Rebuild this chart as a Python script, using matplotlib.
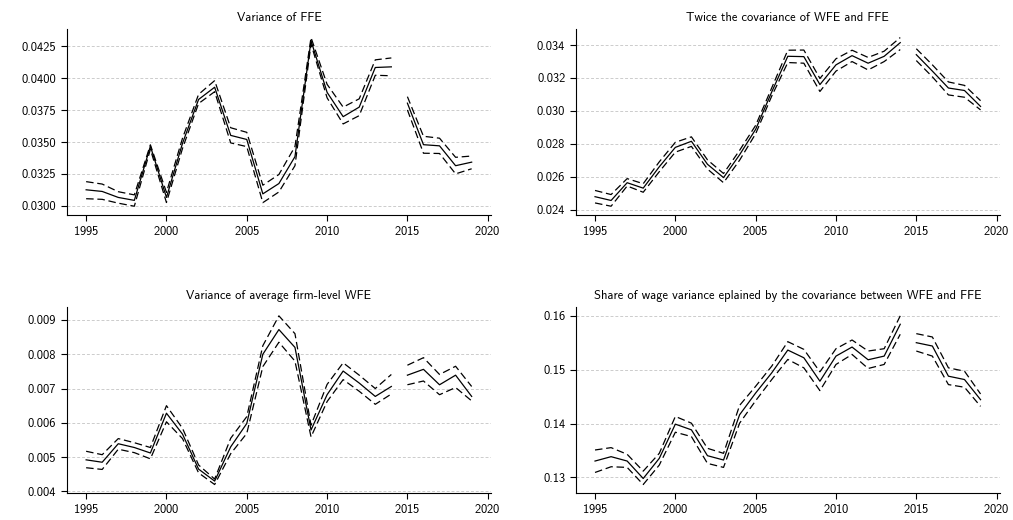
import matplotlib
matplotlib.use("Agg")
import matplotlib.pyplot as plt
from matplotlib.ticker import MultipleLocator, FormatStrFormatter

plt.rcParams['font.family'] = ['cmss10', 'DejaVu Sans']
plt.rcParams['axes.unicode_minus'] = False
plt.rcParams['axes.formatter.use_mathtext'] = True

# years (series breaks between 2014 and 2015)
years = list(range(1995, 2020))

# Variance of FFE
ffe_mid = [0.03125, 0.03112, 0.03065, 0.03042, 0.03467, 0.03065, 0.03490, 0.03834, 0.03930, 0.03552,
           0.03520, 0.03093, 0.03174, 0.03385, 0.04295, 0.03890, 0.03699, 0.03774, 0.04085, 0.04090,
           0.03805, 0.03479, 0.03470, 0.03314, 0.03342]
ffe_lo = [0.03055, 0.03050, 0.03020, 0.02996, 0.03443, 0.03025, 0.03450, 0.03802, 0.03895, 0.03493,
          0.03464, 0.03024, 0.03108, 0.03314, 0.04270, 0.03847, 0.03642, 0.03707, 0.04024, 0.04020,
          0.03752, 0.03412, 0.03410, 0.03250, 0.03290]
ffe_hi = [0.03189, 0.03170, 0.03110, 0.03085, 0.03478, 0.03105, 0.03530, 0.03874, 0.03982, 0.03612,
          0.03576, 0.03161, 0.03245, 0.03464, 0.04320, 0.03953, 0.03774, 0.03839, 0.04145, 0.04160,
          0.03856, 0.03545, 0.03530, 0.03380, 0.03390]

# Twice the covariance of WFE and FFE
cov_mid = [0.02478, 0.02455, 0.02563, 0.02530, 0.02660, 0.02778, 0.02815, 0.02675, 0.02594, 0.02733,
           0.02888, 0.03115, 0.03332, 0.03330, 0.03160, 0.03280, 0.03336, 0.03290, 0.03332, 0.03415,
           0.03342, 0.03242, 0.03139, 0.03124, 0.03027]
cov_lo = [0.02440, 0.02420, 0.02543, 0.02505, 0.02630, 0.02749, 0.02784, 0.02646, 0.02563, 0.02700,
          0.02861, 0.03090, 0.03294, 0.03290, 0.03118, 0.03242, 0.03300, 0.03249, 0.03300, 0.03373,
          0.03306, 0.03207, 0.03097, 0.03083, 0.03006]
cov_hi = [0.02516, 0.02491, 0.02588, 0.02557, 0.02690, 0.02809, 0.02842, 0.02702, 0.02619, 0.02760,
          0.02912, 0.03140, 0.03369, 0.03370, 0.03197, 0.03317, 0.03369, 0.03325, 0.03363, 0.03446,
          0.03378, 0.03280, 0.03176, 0.03155, 0.03062]

# Variance of average firm-level WFE
awfe_mid = [0.00492, 0.00485, 0.00539, 0.00528, 0.00512, 0.00628, 0.00567, 0.00465, 0.00430, 0.00530,
            0.00598, 0.00800, 0.00872, 0.00820, 0.00579, 0.00682, 0.00751, 0.00716, 0.00677, 0.00706,
            0.00739, 0.00756, 0.00711, 0.00739, 0.00677]
awfe_lo = [0.00469, 0.00464, 0.00523, 0.00513, 0.00495, 0.00603, 0.00554, 0.00454, 0.00420, 0.00510,
           0.00569, 0.00764, 0.00835, 0.00780, 0.00559, 0.00662, 0.00726, 0.00692, 0.00654, 0.00684,
           0.00711, 0.00722, 0.00682, 0.00703, 0.00664]
awfe_hi = [0.00517, 0.00507, 0.00554, 0.00542, 0.00528, 0.00650, 0.00584, 0.00477, 0.00436, 0.00555,
           0.00618, 0.00825, 0.00912, 0.00860, 0.00593, 0.00712, 0.00775, 0.00739, 0.00700, 0.00741,
           0.00768, 0.00790, 0.00741, 0.00765, 0.00706]

# Share of wage variance explained by the covariance
share_mid = [0.13305, 0.13386, 0.13305, 0.12981, 0.13355, 0.13990, 0.13884, 0.13404, 0.13324, 0.14164,
             0.14568, 0.14942, 0.15365, 0.15222, 0.14787, 0.15253, 0.15421, 0.15185, 0.15253, 0.15844,
             0.15502, 0.15440, 0.14880, 0.14818, 0.14444]
share_lo = [0.13093, 0.13199, 0.13187, 0.12869, 0.13230, 0.13840, 0.13759, 0.13261, 0.13187, 0.14008,
            0.14425, 0.14817, 0.15191, 0.15035, 0.14612, 0.15098, 0.15284, 0.15023, 0.15098, 0.15658,
            0.15347, 0.15253, 0.14724, 0.14675, 0.14320]
share_hi = [0.13510, 0.13554, 0.13430, 0.13118, 0.13448, 0.14133, 0.14008, 0.13541, 0.13448, 0.14338,
            0.14693, 0.15066, 0.15521, 0.15378, 0.14961, 0.15390, 0.15552, 0.15347, 0.15390, 0.16000,
            0.15670, 0.15608, 0.15035, 0.14973, 0.14550]

titles = ["Variance of FFE",
          "Twice the covariance of WFE and FFE",
          "Variance of average firm-level WFE",
          "Share of wage variance eplained by the covariance between WFE and FFE"]
panels = [(ffe_mid, ffe_lo, ffe_hi), (cov_mid, cov_lo, cov_hi),
          (awfe_mid, awfe_lo, awfe_hi), (share_mid, share_lo, share_hi)]
ysteps = [0.0025, 0.002, 0.001, 0.01]
yfmts = ['%.4f', '%.3f', '%.3f', '%.2f']

brk = years.index(2015)

fig, axes = plt.subplots(2, 2, figsize=(10.13, 5.2), dpi=100)
plt.subplots_adjust(left=0.066, right=0.987, top=0.944, bottom=0.052, wspace=0.2, hspace=0.5)

for ax, (mid, lo, hi), title, step, fmt in zip(axes.flat, panels, titles, ysteps, yfmts):
    for s in [slice(0, brk), slice(brk, len(years))]:
        ax.plot(years[s], mid[s], color="black", lw=0.9)
        ax.plot(years[s], lo[s], color="black", lw=0.9, dashes=(6, 3))
        ax.plot(years[s], hi[s], color="black", lw=0.9, dashes=(6, 3))
    ax.set_title(title, fontsize=9)
    ax.xaxis.set_major_locator(MultipleLocator(5))
    ax.yaxis.set_major_locator(MultipleLocator(step))
    ax.yaxis.set_major_formatter(FormatStrFormatter(fmt))
    ax.grid(axis="y", linestyle=(0, (3, 2)), color="#cccccc", lw=0.7)
    ax.set_axisbelow(True)
    ax.spines["top"].set_visible(False)
    ax.spines["right"].set_visible(False)
    ax.tick_params(labelsize=9, length=4, width=0.8)

plt.savefig("out.png", dpi=100)
